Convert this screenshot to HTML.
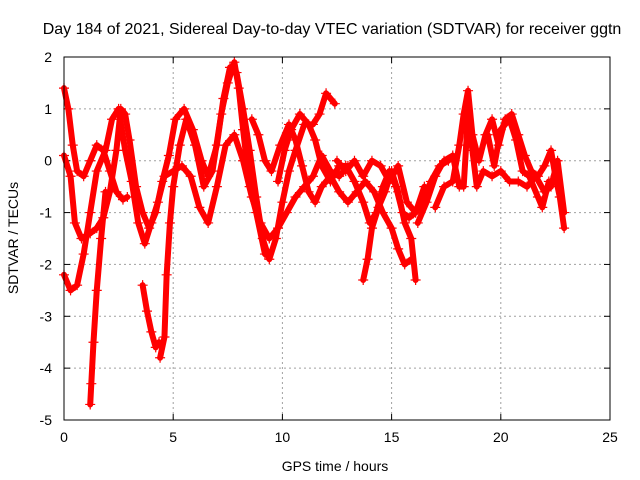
<!DOCTYPE html>
<html><head><meta charset="utf-8"><style>
body{margin:0;background:#fff}
svg{display:block;font-family:"Liberation Sans",sans-serif}
</style></head><body>
<svg id="chart" width="640" height="480" viewBox="0 0 640 480">
<text x="332" y="34" font-size="16" text-anchor="middle">Day 184 of 2021, Sidereal Day-to-day VTEC variation (SDTVAR) for receiver ggtn</text>
<text transform="translate(18,238) rotate(-90)" font-size="14" text-anchor="middle">SDTVAR / TECUs</text>
<text x="335" y="471" font-size="14" text-anchor="middle">GPS time / hours</text>
<g id="grid"></g><g id="axes"></g><g id="marks"></g>
<rect x="64" y="57" width="546" height="363" fill="none" stroke="#000" stroke-width="1"/>
</svg>
<script>
const xTicks=[0,5,10,15,20,25];
const yTicks=[2,1,0,-1,-2,-3,-4,-5];
const tracks=[
[[0,1.4],[0.2,1.0],[0.4,0.3],[0.6,-0.2],[0.9,-0.3],[1.2,0.0],[1.5,0.3],[1.8,0.2],[2.1,-0.2],[2.4,-0.6],[2.7,-0.75],[2.9,-0.7]],
[[0,0.1],[0.3,-0.3],[0.5,-1.2],[0.8,-1.5],[1.2,-1.4],[1.5,-1.3],[1.8,-1.1],[2.1,-0.6],[2.4,0.2],[2.6,1.0],[2.8,0.9],[3.0,0.4],[3.3,-0.5],[3.6,-1.0],[3.9,-1.3],[4.2,-1.0],[4.5,-0.4],[4.8,0.1],[5.1,0.8],[5.5,1.0],[5.9,0.6],[6.3,0.0],[6.6,-0.3],[7.0,0.3],[7.3,1.2],[7.6,1.8],[7.9,1.7],[8.2,1.0],[8.5,0.2],[8.8,-0.7],[9.1,-1.5],[9.4,-1.9],[9.7,-1.5],[10.0,-0.8],[10.3,-0.2],[10.6,0.2],[11.0,0.7],[11.4,0.7],[11.7,0.9],[12.0,1.3],[12.4,1.1]],
[[0,-2.2],[0.3,-2.5],[0.6,-2.4],[0.9,-1.8],[1.2,-1.0],[1.5,-0.2],[1.9,0.2],[2.2,0.8],[2.5,1.0],[2.8,0.2],[3.1,-0.4],[3.4,-1.2],[3.7,-1.6],[4.0,-1.2],[4.3,-0.8],[4.6,-0.3],[5.0,-0.2],[5.4,-0.1],[5.8,-0.3],[6.2,-0.9],[6.6,-1.2],[7.0,-0.5],[7.4,0.3],[7.8,0.5],[8.2,0.0],[8.6,-0.7],[9.0,-1.2],[9.4,-1.5],[9.8,-1.3],[10.2,-1.0],[10.6,-0.7],[11.0,-0.5],[11.4,-0.3],[11.8,0.1],[12.2,-0.2],[12.6,-0.3],[13.0,-0.1]],
[[1.9,-0.6],[1.7,-1.5],[1.5,-2.5],[1.35,-3.5],[1.25,-4.3],[1.2,-4.7]],
[[3.6,-2.4],[3.8,-2.9],[4.0,-3.3],[4.2,-3.6],[4.35,-3.5]],
[[4.4,-3.8],[4.6,-3.4],[4.7,-2.2],[4.85,-1.2],[5.0,-0.5],[5.3,0.3],[5.6,0.8],[6.0,0.3],[6.4,-0.5],[6.8,-0.2],[7.2,0.9],[7.5,1.5],[7.8,1.9],[8.0,1.4],[8.2,0.6],[8.5,-0.5],[8.8,-1.0],[9.2,-1.8]],
[[8.6,0.8],[8.9,0.5],[9.2,0.0],[9.5,-0.2],[9.9,0.3],[10.3,0.7],[10.6,0.4],[10.9,-0.1],[11.2,-0.6],[11.5,-0.8],[11.8,-0.5],[12.2,-0.3],[12.6,-0.6],[13.0,-0.8],[13.4,-0.6],[13.8,-0.4],[14.2,-0.6],[14.6,-1.0],[15.0,-1.3],[15.3,-1.7],[15.6,-2.0],[15.9,-1.9]],
[[9.8,-0.4],[10.1,0.2],[10.4,0.6],[10.8,0.9],[11.2,0.7],[11.5,0.4],[11.8,-0.1],[12.2,-0.4],[12.6,-0.1],[12.9,-0.1],[13.3,-0.4],[13.7,-0.8],[14.0,-1.2],[14.3,-1.0],[14.6,-0.5],[14.9,-0.2],[15.2,-0.5],[15.5,-1.0],[15.8,-1.1],[16.1,-1.0],[16.5,-0.7],[16.8,-0.4],[17.2,-0.1],[17.6,0.0]],
[[13.7,-2.3],[13.9,-1.9],[14.1,-1.3],[14.4,-0.9],[14.7,-0.6],[15.0,-0.2],[15.3,-0.6],[15.6,-1.2],[15.9,-1.5],[16.1,-2.3]],
[[12.5,0.0],[12.9,-0.2],[13.3,0.0],[13.7,-0.3],[14.1,0.0],[14.5,-0.1],[14.9,-0.4],[15.3,-0.1],[15.7,-0.8],[16.1,-1.0],[16.5,-0.5]],
[[16.2,-1.2],[16.6,-0.8],[17.0,-0.3],[17.4,0.0],[17.8,0.1],[18.1,-0.5],[18.3,-0.5],[18.5,0.9],[18.7,0.2],[18.9,-0.5],[19.2,-0.2],[19.6,-0.3],[20.0,-0.2],[20.4,-0.4],[20.8,-0.4],[21.2,-0.5],[21.6,-0.3],[22.0,-0.6],[22.3,-0.5],[22.6,0.0],[22.9,-1.0]],
[[17.0,-0.9],[17.4,-0.5],[17.8,-0.4],[18.1,0.3],[18.3,0.9],[18.5,1.35],[18.7,0.5],[19.0,0.0],[19.3,0.5],[19.6,0.8],[19.9,0.3],[20.2,0.8],[20.5,0.9],[20.8,0.5],[21.1,0.1],[21.4,-0.2],[21.7,-0.3],[22.0,-0.1],[22.3,0.2],[22.5,-0.3],[22.7,-0.7],[22.9,-1.3]],
[[19.4,0.5],[19.7,-0.1],[20.0,0.6],[20.4,0.8],[20.7,0.4],[21.0,-0.2],[21.3,-0.3],[21.7,-0.7],[21.9,-0.9],[22.2,-0.4]]
];
const X0=64,X1=610,Y0=57,Y1=420;
function sx(t){return X0+(t-0)/(25-0)*(X1-X0);}
function sy(v){return Y0+(2-v)/(2-(-5))*(Y1-Y0);}
const NS="http://www.w3.org/2000/svg";
function mk(tag,attrs,parent){const e=document.createElementNS(NS,tag);for(const k in attrs)e.setAttribute(k,attrs[k]);parent.appendChild(e);return e;}
const grid=document.getElementById('grid'),axes=document.getElementById('axes'),marks=document.getElementById('marks');
xTicks.forEach(t=>{const x=sx(t);
 if(t>0&&t<25){const g=mk('line',{x1:x,x2:x,y1:Y0,y2:Y1,stroke:'#a0a0a0','stroke-dasharray':'2,3'},grid);
 
 }
 mk('line',{x1:x,x2:x,y1:Y1,y2:Y1-6,stroke:'#000'},axes);
 mk('line',{x1:x,x2:x,y1:Y0,y2:Y0+6,stroke:'#000'},axes);
 const l=mk('text',{x:x,y:442,'font-size':14,'text-anchor':'middle'},axes);l.textContent=t;
 
 
});
yTicks.forEach(v=>{const y=sy(v);
 if(v<2&&v>-5){const g=mk('line',{x1:X0,x2:X1,y1:y,y2:y,stroke:'#a0a0a0','stroke-dasharray':'2,3'},grid);
 
 }
 mk('line',{x1:X0,x2:X0+6,y1:y,y2:y,stroke:'#000'},axes);
 mk('line',{x1:X1,x2:X1-6,y1:y,y2:y,stroke:'#000'},axes);
 const l=mk('text',{x:52,y:y+5,'font-size':14,'text-anchor':'end'},axes);l.textContent=v;
 
 
});
tracks.forEach((tr,i)=>{
 const g=mk('g',{},marks);
 
 
 mk('polyline',{points:tr.map(p=>sx(p[0])+','+sy(p[1])).join(' '),fill:'none',stroke:'#ff0000','stroke-width':6,'stroke-linejoin':'round','stroke-linecap':'round'},g);
 tr.forEach(p=>{const x=sx(p[0]),y=sy(p[1]);
  mk('path',{d:`M${x-5},${y}H${x+5}M${x},${y-5}V${y+5}`,stroke:'#ff0000','stroke-width':1.2},g);});
});
</script>
</body></html>
